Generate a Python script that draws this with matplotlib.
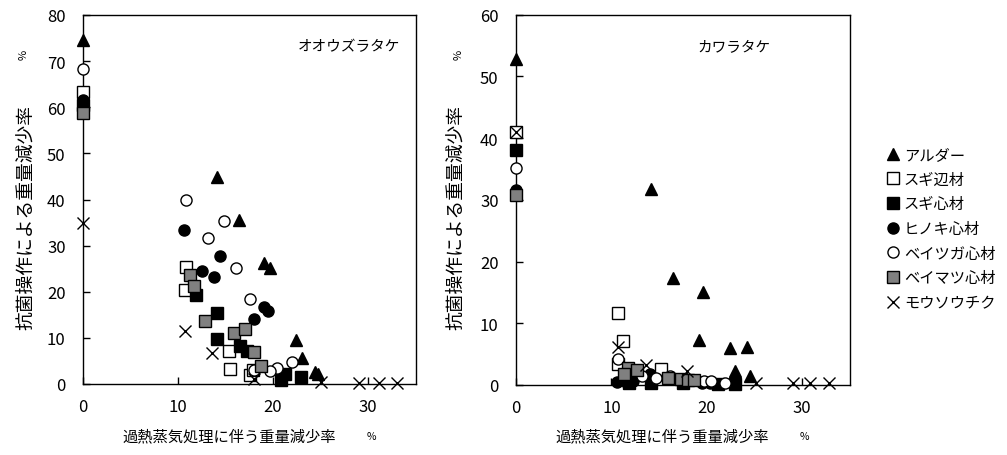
import matplotlib
matplotlib.use("Agg")
import matplotlib.pyplot as plt
from matplotlib.lines import Line2D

plt.rcParams['font.family'] = ['Noto Sans CJK JP', 'DejaVu Sans']

series_names = ["アルダー", "スギ辺材", "スギ心材", "ヒノキ心材", "ベイツガ心材", "ベイマツ心材", "モウソウチク"]

# Left panel: オオウズラタケ
L_alder_x = [0, 14.1, 16.4, 19.1, 19.7, 22.4, 23.0, 24.4, 24.7]
L_alder_y = [74.5, 44.8, 35.6, 26.2, 25.2, 9.6, 5.6, 2.7, 2.2]
L_sugi_sap_x = [0, 10.8, 10.7, 15.4, 15.5, 17.6, 17.9]
L_sugi_sap_y = [63.2, 25.3, 20.4, 7.2, 3.3, 2.0, 3.0]
L_sugi_heart_x = [0, 11.9, 14.1, 14.1, 16.5, 17.3, 20.8, 21.3, 22.9]
L_sugi_heart_y = [60.5, 19.2, 15.4, 9.8, 8.3, 7.1, 0.9, 2.2, 1.6]
L_hinoki_x = [0, 10.6, 14.4, 12.5, 13.8, 19.1, 19.5, 18.0]
L_hinoki_y = [61.6, 33.3, 27.8, 24.4, 23.3, 16.6, 15.9, 14.1]
L_tsuga_x = [0, 10.8, 14.8, 13.2, 16.1, 17.6, 22.0, 20.4, 19.7, 18.0]
L_tsuga_y = [68.2, 40.0, 35.4, 31.6, 25.1, 18.4, 4.8, 3.5, 2.9, 3.0]
L_matsu_x = [0, 11.3, 11.7, 12.8, 15.9, 17.1, 18.0, 18.7]
L_matsu_y = [58.8, 23.7, 21.3, 13.7, 11.0, 11.9, 6.9, 3.8]
L_bamboo_x = [0, 10.7, 13.6, 18.0, 25.1, 29.0, 31.2, 33.0]
L_bamboo_y = [34.9, 11.4, 6.7, 1.1, 0.4, 0.3, 0.3, 0.3]

# Right panel: カワラタケ
R_alder_x = [0, 14.1, 16.5, 19.6, 19.2, 22.4, 24.2, 23.0, 24.5]
R_alder_y = [52.8, 31.8, 17.3, 15.1, 7.3, 6.0, 6.2, 2.3, 1.5]
R_sugi_sap_x = [0, 10.7, 11.2, 10.7, 15.2]
R_sugi_sap_y = [41.0, 11.7, 7.2, 3.4, 2.6]
R_sugi_heart_x = [0, 11.8, 14.1, 17.5, 21.2, 22.9]
R_sugi_heart_y = [38.0, 0.3, 0.3, 0.4, 0.2, 0.2]
R_hinoki_x = [0, 10.6, 11.6, 12.3, 14.0, 14.4, 19.5, 20.3]
R_hinoki_y = [31.6, 0.5, 0.4, 0.6, 1.8, 1.2, 0.4, 0.3]
R_tsuga_x = [0, 10.7, 13.2, 14.7, 16.1, 19.7, 20.4, 21.9]
R_tsuga_y = [35.2, 4.2, 1.5, 1.1, 1.5, 0.7, 0.7, 0.4]
R_matsu_x = [0, 11.7, 12.7, 11.3, 15.9, 17.3, 18.0, 18.7]
R_matsu_y = [30.8, 2.7, 2.5, 1.8, 1.2, 0.9, 0.8, 0.8]
R_bamboo_x = [0, 10.7, 13.6, 17.9, 25.2, 29.0, 30.8, 32.8]
R_bamboo_y = [41.0, 6.1, 3.2, 2.2, 0.4, 0.3, 0.3, 0.3]

styles = [
    dict(marker='^', color='black', mfc='black', mec='black', ms=9),
    dict(marker='s', color='black', mfc='white', mec='black', ms=8.5, mew=1.0),
    dict(marker='s', color='black', mfc='black', mec='black', ms=8.5),
    dict(marker='o', color='black', mfc='black', mec='black', ms=8),
    dict(marker='o', color='black', mfc='white', mec='black', ms=8, mew=1.0),
    dict(marker='s', color='black', mfc='#808080', mec='black', ms=8.5, mew=1.0),
    dict(marker='x', color='black', mfc='black', mec='black', ms=9, mew=1.0),
]

left_data = [(L_alder_x, L_alder_y), (L_sugi_sap_x, L_sugi_sap_y), (L_sugi_heart_x, L_sugi_heart_y),
             (L_hinoki_x, L_hinoki_y), (L_tsuga_x, L_tsuga_y), (L_matsu_x, L_matsu_y),
             (L_bamboo_x, L_bamboo_y)]
right_data = [(R_alder_x, R_alder_y), (R_sugi_sap_x, R_sugi_sap_y), (R_sugi_heart_x, R_sugi_heart_y),
              (R_hinoki_x, R_hinoki_y), (R_tsuga_x, R_tsuga_y), (R_matsu_x, R_matsu_y),
              (R_bamboo_x, R_bamboo_y)]

W, H = 1007, 456
fig = plt.figure(figsize=(W / 100, H / 100), dpi=100)

axL = fig.add_axes([83 / W, (H - 385) / H, 332.5 / W, 369 / H])
axR = fig.add_axes([516 / W, (H - 386) / H, 334 / W, 370.3 / H])

xlabel_main = "過熱蒸気処理に伴う重量減少率"
ylabel_main = "抗菌操作による重量減少率"

xticks = [0, 10, 20, 30]
for ax, data, ymax, yticks, title, tx in [
        (axL, left_data, 80, list(range(0, 81, 10)), "オオウズラタケ", 0.645),
        (axR, right_data, 60, list(range(0, 61, 10)), "カワラタケ", 0.542)]:
    for (xs, ys), st in zip(data, styles):
        ax.plot(xs, ys, linestyle='none', clip_on=False, zorder=3, **st)
    ax.set_xlim(0, 35)
    ax.set_ylim(0, ymax)
    ax.set_xticks(xticks)
    ax.set_yticks(yticks)
    ax.tick_params(direction='in', length=5, width=1, labelsize=12)
    ax.tick_params(axis='y', pad=12.5)
    ax.tick_params(axis='x', pad=10)
    for s in ax.spines.values():
        s.set_linewidth(1.0)
    ax.text(tx, 0.915, title, transform=ax.transAxes, fontsize=10.5, ha='left', va='center')

for off in (0, 433):
    fig.text((122 + off) / W, 1 - 437 / H, xlabel_main, fontsize=11, ha='left', va='center')
    fig.text((371 + off) / W, 1 - 437 / H, "%", fontsize=7.5, ha='center', va='center')

fig.text(26 / W, 1 - 218 / H, ylabel_main, rotation=90, fontsize=13.5,
         ha='center', va='center')
fig.text(24 / W, 1 - 55 / H, "%", rotation=90, fontsize=8, ha='center', va='center')
fig.text(456 / W, 1 - 218 / H, ylabel_main, rotation=90, fontsize=13.5,
         ha='center', va='center')
fig.text(459 / W, 1 - 55 / H, "%", rotation=90, fontsize=8, ha='center', va='center')

handles = [Line2D([], [], linestyle='none', **st) for st in styles]
fig.legend(handles, series_names, loc='upper left', bbox_to_anchor=(881 / W, 1 - 141 / H),
           frameon=False, fontsize=11, handlelength=0.8, handletextpad=0.3,
           labelspacing=0.5, borderaxespad=0)

fig.savefig("out.png", dpi=100)
